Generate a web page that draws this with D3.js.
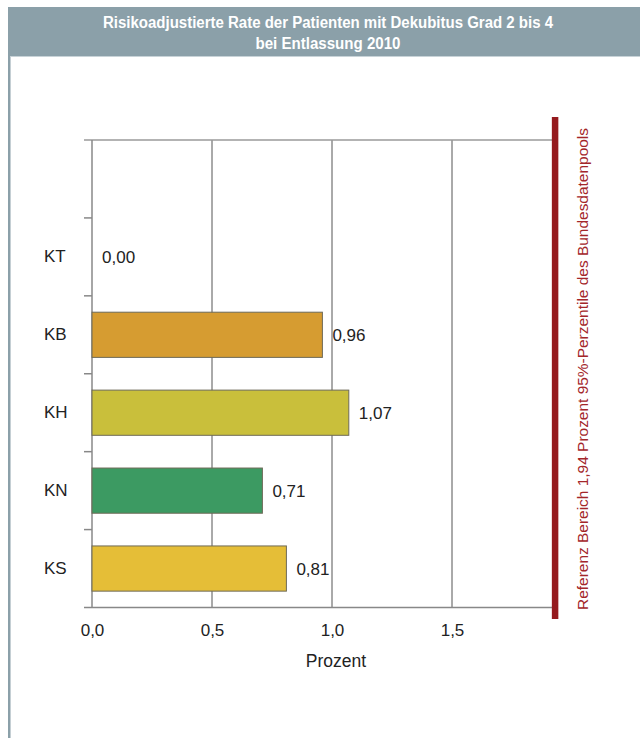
<!DOCTYPE html>
<html><head><meta charset="utf-8">
<script src="https://cdn.jsdelivr.net/npm/d3@7"></script>
<style>
html,body{margin:0;padding:0;background:#fff;}
svg{display:block;}
text{font-family:"Liberation Sans",Arial,Helvetica,sans-serif;}
</style></head>
<body><svg id="c" width="640" height="738"></svg>
<script>
const titleLines = ["Risikoadjustierte Rate der Patienten mit Dekubitus Grad 2 bis 4", "bei Entlassung 2010"];
const categories = ["KT", "KB", "KH", "KN", "KS"];
const values = [0.00, 0.96, 1.07, 0.71, 0.81];
const barColors = ["#d69c31", "#d69c31", "#c9bf3b", "#3c9a62", "#e5be37"];
const xTicks = [0, 0.5, 1.0, 1.5];
const referenceValue = 1.94;
const referenceLabel = "Referenz Bereich 1,94 Prozent 95%-Perzentile des Bundesdatenpools";
const xLabel = "Prozent";

(function () {
const svg = d3.select("#c");
const fmt = (d, p) => d3.format("." + p + "f")(d).replace(".", ",");

// header
svg.append("rect").attr("x", 8).attr("y", 7).attr("width", 632).attr("height", 49).attr("fill", "#8ba0a9");
svg.append("rect").attr("x", 8).attr("y", 56).attr("width", 2.5).attr("height", 682).attr("fill", "#8ba0a9");
svg.append("line").attr("x1", 10).attr("x2", 640).attr("y1", 56.5).attr("y2", 56.5).attr("stroke", "#c8d3d8").attr("stroke-width", 1);
const titleLens = [450, 145];
titleLines.forEach((t, i) => {
  svg.append("text").attr("x", 328 - titleLens[i] / 2).attr("y", 28 + i * 21)
    .attr("fill", "#fff").attr("font-weight", "bold").attr("font-size", 16)
    .attr("textLength", titleLens[i]).attr("lengthAdjust", "spacingAndGlyphs")
    .text(t);
});

const x = d3.scaleLinear().domain([0, 1.5]).range([92, 452]);
const yDomain = [" "].concat(categories);
const plotTop = 140, plotBottom = 607.5;
const y = d3.scaleBand().domain(yDomain).range([plotTop, plotBottom]).paddingInner(0.42).paddingOuter(0.21);
const step = y.step();
const xRef = x(referenceValue);

// gridlines
svg.append("g").selectAll("line").data(xTicks.slice(1)).join("line")
  .attr("x1", d => x(d)).attr("x2", d => x(d)).attr("y1", plotTop).attr("y2", plotBottom)
  .attr("stroke", "#555").attr("stroke-width", 1);

svg.append("line").attr("x1", 84).attr("x2", xRef).attr("y1", plotTop).attr("y2", plotTop).attr("stroke", "#9a9a9a").attr("stroke-width", 1.5);
svg.append("line").attr("x1", 84).attr("x2", xRef).attr("y1", plotBottom).attr("y2", plotBottom).attr("stroke", "#888").attr("stroke-width", 1.5);
svg.append("line").attr("x1", x(0)).attr("x2", x(0)).attr("y1", plotTop).attr("y2", plotBottom).attr("stroke", "#888").attr("stroke-width", 1.5);
svg.append("g").selectAll("line").data(d3.range(1, yDomain.length)).join("line")
  .attr("x1", 84).attr("x2", x(0)).attr("y1", i => plotTop + i * step).attr("y2", i => plotTop + i * step)
  .attr("stroke", "#888").attr("stroke-width", 1.5);

// bars
const data = categories.map((c, i) => ({c, v: values[i], col: barColors[i]}));
svg.append("g").selectAll("rect").data(data.filter(d => d.v > 0)).join("rect")
  .attr("x", x(0)).attr("y", d => y(d.c)).attr("width", d => x(d.v) - x(0)).attr("height", y.bandwidth())
  .attr("fill", d => d.col).attr("stroke", "#6e6a58").attr("stroke-width", 1);

svg.append("g").selectAll("text").data(data).join("text")
  .attr("x", d => x(d.v) + 10).attr("y", d => y(d.c) + y.bandwidth() / 2).attr("dy", "0.36em")
  .attr("font-size", 17).attr("fill", "#222").text(d => fmt(d.v, 2));

const yAxis = svg.append("g").attr("transform", "translate(" + x(0) + ",0)")
  .call(d3.axisLeft(y).tickSize(0).tickPadding(26).tickFormat(d => d.trim()));
yAxis.select(".domain").remove();
yAxis.selectAll("text").attr("font-size", 17).attr("fill", "#222").attr("text-anchor", "start").attr("x", -48)
  .style("font-family", "'Liberation Sans',Arial,sans-serif");

const xAxis = svg.append("g").attr("transform", "translate(0," + plotBottom + ")")
  .call(d3.axisBottom(x).tickValues(xTicks).tickSize(0).tickPadding(16).tickFormat(d => fmt(d, 1)));
xAxis.select(".domain").remove();
xAxis.selectAll("text").attr("font-size", 17).attr("fill", "#222")
  .style("font-family", "'Liberation Sans',Arial,sans-serif");

svg.append("text").attr("x", 336).attr("y", 667).attr("text-anchor", "middle")
  .attr("font-size", 17.5).attr("fill", "#222").text(xLabel);

svg.append("line").attr("x1", xRef - 2.5).attr("x2", xRef - 2.5).attr("y1", 117).attr("y2", 619)
  .attr("stroke", "#951a1e").attr("stroke-width", 6.5);
svg.append("text").attr("transform", "translate(" + (xRef + 30) + "," + 369 + ") rotate(-90)")
  .attr("text-anchor", "middle").attr("font-size", 15).attr("fill", "#a3262a")
  .attr("textLength", 482).attr("lengthAdjust", "spacingAndGlyphs").text(referenceLabel);
})();
</script></body></html>
